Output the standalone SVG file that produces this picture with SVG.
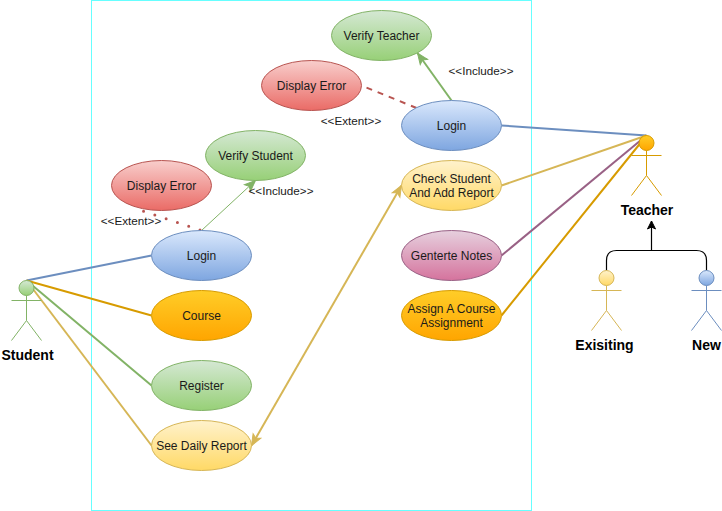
<svg xmlns="http://www.w3.org/2000/svg" width="722" height="511" viewBox="0 0 722 511">
<style>
text{font-family:"Liberation Sans",Arial,sans-serif;font-size:12px;fill:#1a1a1a;text-anchor:middle}
.lbl{font-size:11.7px}
.act{font-size:14px;font-weight:bold;fill:#000}
.c{fill:none;stroke-width:2}
.dots{fill:none;stroke:#b85450;stroke-width:3;stroke-linecap:round;stroke-dasharray:0 11.900}
.fig{fill:none;stroke-width:1}
</style>
<defs>
<linearGradient id="gG" x1="0" y1="0" x2="0" y2="1"><stop offset="0" stop-color="#d5e8d4"/><stop offset="1" stop-color="#97d077"/></linearGradient>
<linearGradient id="gR" x1="0" y1="0" x2="0" y2="1"><stop offset="0" stop-color="#f8cecc"/><stop offset="1" stop-color="#ea6b66"/></linearGradient>
<linearGradient id="gB" x1="0" y1="0" x2="0" y2="1"><stop offset="0" stop-color="#dae8fc"/><stop offset="1" stop-color="#7ea6e0"/></linearGradient>
<linearGradient id="gO" x1="0" y1="0" x2="0" y2="1"><stop offset="0" stop-color="#ffcd28"/><stop offset="1" stop-color="#ffa500"/></linearGradient>
<linearGradient id="gY" x1="0" y1="0" x2="0" y2="1"><stop offset="0" stop-color="#fff2cc"/><stop offset="1" stop-color="#ffd966"/></linearGradient>
<linearGradient id="gP" x1="0" y1="0" x2="0" y2="1"><stop offset="0" stop-color="#e6d0de"/><stop offset="1" stop-color="#d5739d"/></linearGradient>
<marker id="aG" markerUnits="userSpaceOnUse" markerWidth="14" markerHeight="12" refX="12" refY="5" orient="auto" viewBox="0 0 14 10"><path d="M1 0.5L12 5L1 9.5L3.5 5Z" fill="#82b366" stroke="#82b366"/></marker>
<marker id="aY" markerUnits="userSpaceOnUse" markerWidth="14" markerHeight="12" refX="12" refY="5" orient="auto-start-reverse" viewBox="0 0 14 10"><path d="M1 0.5L12 5L1 9.5L3.5 5Z" fill="#d6b656" stroke="#d6b656"/></marker>
<marker id="aK" markerUnits="userSpaceOnUse" markerWidth="10" markerHeight="10" refX="9" refY="5" orient="auto" viewBox="0 0 10 10"><path d="M1 1L9 5L1 9L3 5Z" fill="#000" stroke="#000"/></marker>
</defs>
<rect id="frame" x="91.5" y="0.5" width="440" height="510" fill="#fff" stroke="#66ffff"/>
<g id="connectors">
<path class="c" stroke="#6c8ebf" d="M26.5 280.500L151.500 255.500"/>
<path class="c" stroke="#d79b00" d="M26.500 280.500L151.500 315.500"/>
<path class="c" stroke="#82b366" d="M26.500 280.500L151.500 385.500"/>
<path class="c" stroke="#d6b656" d="M26.500 280.500L151.500 445.500"/>
<path fill="none" stroke="#82b366" marker-end="url(#aG)" d="M201.500 230.500L255.500 180.500"/>
<path class="dots" d="M200 230L143 211"/>
<path class="c" stroke="#d6b656" marker-start="url(#aY)" marker-end="url(#aY)" d="M251.500 445.500L401.500 185.500"/>
<path class="c" stroke="#82b366" marker-end="url(#aG)" d="M451.500 100.500L417.500 53"/>
<path class="c" stroke="#b85450" stroke-dasharray="6 6" d="M416.500 108L361.500 85.500"/>
<path class="c" stroke="#6c8ebf" d="M501.500 125.500L646.500 135.500"/>
<path class="c" stroke="#d6b656" d="M501.500 185.500L646.500 135.500"/>
<path class="c" stroke="#996185" d="M501.500 255.500L646.500 135.500"/>
<path class="c" stroke="#d79b00" d="M501.500 315.500L646.500 135.500"/>
<path fill="none" stroke="#000" stroke-width="1.200" d="M606.500 270.500V260.500Q606.500 250.500 616.500 250.500H696.500Q706.500 250.500 706.500 260.500V270.500"/>
<path fill="none" stroke="#000" stroke-width="1.200" marker-end="url(#aK)" d="M651.500 250.500V221"/>
</g>
<g id="verify-teacher"><ellipse cx="381.500" cy="35.500" rx="50" ry="25" fill="url(#gG)" stroke="#82b366"/><text x="381.500" y="39.500">Verify Teacher</text></g>
<g id="display-error-t"><ellipse cx="311.500" cy="85.500" rx="50" ry="25" fill="url(#gR)" stroke="#b85450"/><text x="311.500" y="89.500">Display Error</text></g>
<g id="login-t"><ellipse cx="451.500" cy="125.500" rx="50" ry="25" fill="url(#gB)" stroke="#6c8ebf"/><text x="451.500" y="129.500">Login</text></g>
<g id="check"><ellipse cx="451.500" cy="185.500" rx="50" ry="25" fill="url(#gY)" stroke="#d6b656"/><text x="451.500" y="182.500">Check Student</text><text x="451.500" y="196.500">And Add Report</text></g>
<g id="notes"><ellipse cx="451.500" cy="255.500" rx="50" ry="25" fill="url(#gP)" stroke="#996185"/><text x="451.500" y="259.500">Genterte Notes</text></g>
<g id="assign"><ellipse cx="451.500" cy="315.500" rx="50" ry="25" fill="url(#gO)" stroke="#d79b00"/><text x="451.500" y="312.500">Assign A Course</text><text x="451.500" y="326.500">Assignment</text></g>
<g id="verify-student"><ellipse cx="255.500" cy="155.500" rx="50" ry="25" fill="url(#gG)" stroke="#82b366"/><text x="255.500" y="159.500">Verify Student</text></g>
<g id="display-error-s"><ellipse cx="161.500" cy="185.500" rx="50" ry="25" fill="url(#gR)" stroke="#b85450"/><text x="161.500" y="189.500">Display Error</text></g>
<g id="login-s"><ellipse cx="201.500" cy="255.500" rx="50" ry="25" fill="url(#gB)" stroke="#6c8ebf"/><text x="201.500" y="259.500">Login</text></g>
<g id="course"><ellipse cx="201.500" cy="315.500" rx="50" ry="25" fill="url(#gO)" stroke="#d79b00"/><text x="201.500" y="319.500">Course</text></g>
<g id="register"><ellipse cx="201.500" cy="385.500" rx="50" ry="25" fill="url(#gG)" stroke="#82b366"/><text x="201.500" y="389.500">Register</text></g>
<g id="report"><ellipse cx="201.500" cy="445.500" rx="50" ry="25" fill="url(#gY)" stroke="#d6b656"/><text x="201.500" y="449.500">See Daily Report</text></g>
<g id="labels">
<text class="lbl" x="481" y="74.500">&lt;&lt;Include&gt;&gt;</text>
<text class="lbl" x="351" y="124.500">&lt;&lt;Extent&gt;&gt;</text>
<text class="lbl" x="281" y="194.500">&lt;&lt;Include&gt;&gt;</text>
<text class="lbl" x="131" y="224.500">&lt;&lt;Extent&gt;&gt;</text>
</g>
<g id="student"><circle cx="26.500" cy="288" r="7.500" fill="url(#gG)" stroke="#82b366"/><path class="fig" stroke="#82b366" d="M26.500 295.500V320.500M11.500 300.500H41.500M26.500 320.500L11.500 340.500M26.500 320.500L41.500 340.500"/><text class="act" x="27.500" y="360">Student</text></g>
<g id="teacher"><circle cx="646.500" cy="143" r="7.500" fill="url(#gO)" stroke="#d79b00"/><path class="fig" stroke="#d79b00" d="M646.500 150.500V175.500M631.500 155.500H661.500M646.500 175.500L631.500 195.500M646.500 175.500L661.500 195.500"/><text class="act" x="647" y="215">Teacher</text></g>
<g id="existing"><circle cx="606.500" cy="278" r="7.500" fill="url(#gY)" stroke="#d6b656"/><path class="fig" stroke="#d6b656" d="M606.500 285.500V310.500M591.500 290.500H621.500M606.500 310.500L591.500 330.500M606.500 310.500L621.500 330.500"/><text class="act" x="604.500" y="350">Exisiting</text></g>
<g id="new"><circle cx="706.500" cy="278" r="7.500" fill="url(#gB)" stroke="#6c8ebf"/><path class="fig" stroke="#6c8ebf" d="M706.500 285.500V310.500M691.500 290.500H721.500M706.500 310.500L691.500 330.500M706.500 310.500L721.500 330.500"/><text class="act" x="706.500" y="350">New</text></g>
</svg>
